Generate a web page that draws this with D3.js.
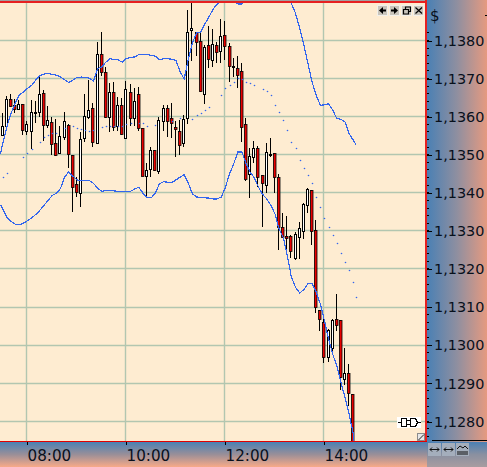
<!DOCTYPE html>
<html><head><meta charset="utf-8">
<script src="https://cdn.jsdelivr.net/npm/d3@7"></script>
<style>html,body{margin:0;padding:0;background:#fff;overflow:hidden}svg{display:block}</style>
</head><body><div id="c"></div>
<script>
const high=[1360.8,1365.4,1365.9,1364.5,1364.3,1363.2,1358.6,1364.3,1363.9,1370.6,1366.8,1362.7,1359.9,1359.2,1357.3,1361.2,1357.9,1349.8,1344.0,1355.8,1365.9,1369.6,1363.4,1379.4,1382.1,1372.9,1368.7,1368.9,1365.0,1364.8,1369.3,1368.4,1367.4,1367.6,1356.9,1347.6,1352.0,1351.1,1359.9,1363.0,1362.9,1363.4,1358.6,1359.0,1360.4,1388.0,1389.7,1382.1,1381.8,1378.8,1383.6,1382.9,1379.6,1385.6,1384.9,1379.2,1375.3,1375.9,1373.9,1359.5,1351.6,1353.4,1352.2,1344.5,1352.9,1354.3,1350.3,1344.8,1334.7,1333.8,1328.8,1329.6,1332.3,1337.1,1341.1,1340.6,1332.7,1309.2,1307.1,1304.2,1306.8,1313.4,1306.6,1299.0,1295.0,1287.1];
const low=[1354.8,1356.6,1362.4,1360.8,1361.7,1355.1,1355.1,1351.4,1358.3,1359.9,1353.6,1356.9,1349.8,1349.6,1350.3,1353.8,1346.5,1334.9,1338.7,1336.2,1353.3,1359.2,1351.8,1352.8,1370.6,1359.5,1355.8,1356.0,1356.1,1355.0,1354.1,1357.3,1357.3,1356.2,1344.3,1338.7,1343.9,1345.7,1344.8,1356.1,1354.6,1354.2,1349.4,1349.8,1351.8,1358.0,1374.4,1375.7,1366.4,1363.2,1372.6,1372.9,1373.9,1373.9,1374.8,1369.1,1370.4,1367.5,1353.1,1343.1,1338.6,1347.6,1341.3,1331.0,1339.9,1349.4,1339.9,1324.8,1328.2,1323.5,1322.8,1322.2,1322.4,1327.7,1334.6,1326.1,1308.3,1303.6,1295.2,1295.4,1297.6,1303.6,1288.2,1289.3,1283.9,1274.3];
const open=[1355.1,1357.5,1364.5,1362.9,1361.8,1363.1,1356.2,1356.1,1360.9,1361.0,1366.1,1357.8,1358.4,1352.9,1350.4,1354.5,1357.8,1349.7,1342.1,1339.7,1354.2,1359.9,1362.1,1352.9,1376.4,1371.6,1359.7,1366.3,1357.3,1362.9,1354.3,1366.3,1359.6,1365.8,1356.8,1344.4,1346.0,1351.0,1345.6,1358.6,1362.1,1359.5,1357.1,1356.1,1352.9,1359.5,1382.7,1382.0,1379.7,1365.7,1378.7,1374.8,1378.8,1377.0,1381.3,1378.4,1373.1,1372.6,1371.8,1357.9,1344.8,1349.4,1351.6,1344.5,1341.8,1349.9,1350.2,1344.0,1330.8,1328.5,1328.5,1322.8,1328.2,1329.9,1336.8,1340.5,1330.0,1309.1,1306.0,1296.8,1299.2,1306.8,1306.5,1291.0,1292.5,1287.0];
const close=[1357.5,1364.5,1362.7,1362.0,1363.2,1356.3,1357.9,1361.1,1361.1,1365.8,1357.8,1359.0,1352.8,1349.8,1354.7,1358.7,1350.0,1341.3,1340.2,1354.0,1360.1,1361.6,1353.1,1376.3,1371.6,1359.9,1366.3,1357.1,1362.9,1355.4,1367.1,1359.6,1363.9,1356.8,1344.4,1345.8,1351.1,1345.9,1359.0,1362.1,1358.6,1358.1,1356.5,1352.5,1359.2,1382.1,1383.2,1379.5,1366.5,1378.2,1375.0,1378.9,1376.8,1381.1,1378.4,1373.1,1373.3,1370.7,1357.1,1343.6,1349.6,1351.6,1343.9,1342.5,1350.5,1350.1,1344.1,1330.8,1328.3,1327.9,1324.7,1329.0,1330.5,1336.9,1340.8,1329.9,1309.9,1306.7,1296.8,1303.8,1306.4,1305.1,1291.5,1292.5,1287.4,1274.4];
const upperBand=[1350.3,1352.9,1357.3,1360.8,1363.4,1365.6,1366.5,1367.4,1368.2,1369.6,1370.8,1371.2,1371.3,1371.1,1370.9,1370.4,1369.7,1369.0,1369.6,1370.3,1370.4,1370.3,1370.1,1369.4,1372.6,1373.1,1374.3,1375.2,1375.0,1374.9,1374.3,1375.3,1375.5,1375.7,1376.3,1376.3,1376.3,1376.1,1375.9,1375.0,1375.2,1375.2,1375.1,1374.8,1371.8,1369.9,1375.2,1379.4,1382.0,1382.2,1384.3,1386.2,1388.2,1389.6,1390.3,1390.8,1390.7,1390.5,1389.6,1389.6,1391.0,1392.4,1393.2,1393.7,1393.7,1393.7,1393.2,1392.8,1392.2,1391.5,1390.8,1389.7,1387.1,1383.2,1378.8,1373.9,1369.1,1365.6,1363.0,1363.1,1363.4,1361.7,1359.5,1359.3,1358.6,1355.5,1353.8,1352.7];
const lowerBand=[1336.9,1335.8,1333.6,1332.5,1331.8,1331.6,1332.0,1332.7,1333.4,1334.3,1335.4,1336.7,1338.0,1339.3,1339.9,1341.1,1344.1,1345.5,1344.4,1343.4,1343.2,1343.2,1343.2,1342.5,1341.2,1340.4,1340.6,1340.6,1340.5,1340.4,1340.4,1340.3,1340.4,1341.0,1341.5,1339.9,1338.8,1338.7,1339.9,1342.4,1342.9,1342.8,1342.7,1343.4,1344.1,1344.8,1342.5,1339.7,1338.9,1338.8,1338.7,1338.6,1338.4,1338.4,1338.9,1341.5,1345.0,1347.6,1350.7,1350.7,1347.6,1345.4,1343.9,1341.5,1339.6,1338.4,1336.7,1334.5,1330.5,1328.3,1323.5,1317.8,1315.2,1313.7,1314.6,1316.1,1316.1,1313.9,1310.8,1306.4,1301.6,1297.6,1294.6,1290.2,1286.2,1281.8,1276.6,1267.8];
const midBand=[null,1344.1,1345.0,null,null,null,1349.4,1350.4,1351.4,null,1353.3,1354.4,1355.1,1355.5,1355.7,null,1356.8,null,1357.3,1356.8,1356.6,1356.4,1356.0,1356.4,null,1357.1,1357.5,1357.5,1357.5,1357.4,1357.5,1358.0,1358.3,null,1358.2,1358.1,1357.5,null,1357.6,null,null,null,1358.6,null,1359.5,null,null,1359.3,1360.2,1360.8,1361.7,1362.5,null,null,1365.6,1367.4,1368.1,1369.1,1370.0,1369.7,1369.1,1368.7,1368.3,null,1367.1,1366.7,1365.6,1363.0,1361.2,1359.0,1356.4,1353.3,1351.6,1348.5,1346.3,1344.6,1342.4,1338.9,1336.2,1333.2,1331.0,1328.8,1326.6,1324.0,1321.8,1319.6,1316.5,1312.5];
const bandSlots=[-0.55,...d3.range(86),85.65];
const priceTicks=[1280,1290,1300,1310,1320,1330,1340,1350,1360,1370,1380];
const minorTicks=d3.range(1276,1386,2);
const timeLabels=["08:00","10:00","12:00","14:00"];
const timeBars=[6,30,54,78];

const W=487,H=467,plotR=426,plotB=441,plotT=3;
const x=d3.scaleLinear().domain([0,1]).range([2.2,6.325]);
const y=d3.scaleLinear().domain([1380,1280]).range([40.5,421.3]);
const px=i=>Math.floor(x(i));
const py=v=>Math.floor(y(v));

const svg=d3.select("#c").append("svg").attr("width",W).attr("height",H);
const defs=svg.append("defs");
const grad=(id,x2,y2,stops)=>{const g=defs.append("linearGradient").attr("id",id).attr("x1",0).attr("y1",0).attr("x2",x2).attr("y2",y2);
  stops.forEach((c,i)=>g.append("stop").attr("offset",i/(stops.length-1)).attr("stop-color",c));};
grad("gr",1,0,["#4a80b4","#8f8fa0","#e69a80"]);
grad("gb",0,1,["#4a80b4","#9a8f98","#f8aa88"]);
grad("gc",0,1,["#4a80b4","#8a90a0","#a89ca0"]);
defs.append("clipPath").attr("id","plot").append("rect").attr("x",0).attr("y",plotT).attr("width",plotR).attr("height",plotB-plotT);

svg.append("rect").attr("width",W).attr("height",H).attr("fill","#feecd1");
svg.append("rect").attr("x",427).attr("y",0).attr("width",60).attr("height",442).attr("fill","url(#gr)");
svg.append("rect").attr("x",0).attr("y",442).attr("width",427).attr("height",25).attr("fill","url(#gb)");
svg.append("rect").attr("x",427).attr("y",442).attr("width",60).attr("height",25).attr("fill","url(#gc)");

const grid=svg.append("g").attr("stroke","#b2c6b0").attr("stroke-width",1.4);
grid.selectAll("line.h").data(priceTicks).join("line").attr("class","h")
 .attr("x1",0).attr("x2",plotR).attr("y1",d=>py(d)+.5).attr("y2",d=>py(d)+.5);
grid.selectAll("line.v").data(timeBars).join("line").attr("class","v")
 .attr("x1",d=>px(d)+.5).attr("x2",d=>px(d)+.5).attr("y1",plotT).attr("y2",plotB);

const plot=svg.append("g").attr("clip-path","url(#plot)");
const idx=d3.range(high.length);
const bars=plot.append("g");
bars.selectAll("rect.w").data(idx).join("rect").attr("class","w").attr("shape-rendering","crispEdges")
 .attr("x",px).attr("width",1).attr("fill","#000")
 .attr("y",i=>py(high[i])).attr("height",i=>Math.max(1,py(low[i])-py(high[i])));
const isDown=i=>close[i]<open[i];
bars.selectAll("rect.b").data(idx).join("rect").attr("class","b")
 .attr("x",i=>isDown(i)?px(i)-.6:px(i)-.5).attr("width",i=>isDown(i)?2.6:2)
 .attr("y",i=>py(Math.max(open[i],close[i]))+.5)
 .attr("height",i=>Math.max(1,py(Math.min(open[i],close[i]))-py(Math.max(open[i],close[i]))))
 .attr("fill",i=>isDown(i)?"#e80000":"#fff")
 .attr("stroke","#000").attr("stroke-width",i=>isDown(i)?.8:1);

const line=d3.line().defined(d=>d.v!==null).x(d=>x(d.s)+.5).y(d=>y(d.v));
const slots=a=>a.map((v,k)=>({v,s:bandSlots[k]}));
const bandG=plot.append("g").attr("fill","none").attr("stroke","#3366ee").attr("stroke-width",1.2).attr("shape-rendering","crispEdges");
bandG.append("path").attr("d",line(slots(upperBand)));
bandG.append("path").attr("d",line(slots(lowerBand)));
plot.append("g").attr("fill","#3366ee")
 .selectAll("circle").data(slots(midBand).filter(d=>d.v!==null)).join("circle")
 .attr("cx",d=>Math.floor(x(d.s))+1.5).attr("cy",d=>py(d.v)+.5).attr("r",.8);

const frame=svg.append("g").attr("shape-rendering","crispEdges");
frame.append("rect").attr("x",0).attr("y",0).attr("width",427).attr("height",1).attr("fill","#a0a0a0");
frame.append("rect").attr("x",0).attr("y",1).attr("width",427).attr("height",2).attr("fill","#e62020");
frame.append("rect").attr("x",425).attr("y",0).attr("width",2).attr("height",442).attr("fill","#e62020");
frame.append("rect").attr("x",0).attr("y",441).attr("width",427).attr("height",1).attr("fill","#e00000");

const ay=d3.axisRight(d3.scaleLinear().domain(y.domain()).range([py(1380)+.5,py(1280)+.5])).tickValues(priceTicks).tickSize(5).tickPadding(2).tickFormat(d=>"1,"+d);
const gy=svg.append("g").attr("transform","translate(427,0)").call(ay);
gy.select(".domain").remove();
gy.selectAll("line").attr("stroke","#000").attr("shape-rendering","crispEdges");
gy.selectAll("text").style("font",'14.4px "DejaVu Sans"').attr("fill","#08101c");
svg.append("g").attr("fill","#000").attr("shape-rendering","crispEdges").selectAll("rect").data(minorTicks.filter(v=>y(v)<438&&y(v)>26)).join("rect")
 .attr("x",427).attr("y",py).attr("width",2).attr("height",1);
svg.append("text").attr("x",430).attr("y",21).attr("fill","#08101c").style("font",'15px "DejaVu Sans"').text("$");
svg.append("rect").attr("x",432).attr("y",440).attr("width",55).attr("height",1).attr("fill","#000");
svg.append("rect").attr("x",485).attr("y",15).attr("width",2).attr("height",1).attr("fill","#000");

const xt=d3.scaleOrdinal().domain(timeBars).range(timeBars.map(px));
const ax=d3.axisBottom(xt).tickValues(timeBars).tickSize(3).tickFormat((d,i)=>timeLabels[i]);
const gx=svg.append("g").attr("transform","translate(0.5,442)").call(ax);
gx.select(".domain").remove();
gx.selectAll("line").attr("stroke","#000").attr("shape-rendering","crispEdges");
gx.selectAll("text").style("font",'15.2px "DejaVu Sans"').attr("fill","#08101c").attr("text-anchor","start").attr("x",0.5).attr("y",19).attr("dy",0);

const btn=svg.append("g");
const btnX=[377,389,401,413];
btn.selectAll("rect").data(btnX).join("rect").attr("x",d=>d+.5).attr("y",5.5).attr("width",10).attr("height",10).attr("fill","#c8c4bb").attr("stroke","#f2f0ea").attr("shape-rendering","crispEdges");
const icons=["M386 9.5V11.5H383V14L379 10.5L383 7V9.5Z","M391 9.5V11.5H394V14L398 10.5L394 7V9.5Z","M403.5 9.5h5v4.5h-5zM405.5 9V7h5v4.5h-2","M415.5 7.5L422 13.5M422 7.5L415.5 13.5"];
btn.selectAll("path").data(icons).join("path").attr("d",d=>d).attr("fill",(d,i)=>i<2?"#000":"none").attr("stroke",(d,i)=>i<2?"none":"#000").attr("stroke-width",1.2);

const cw=svg.append("g").attr("fill","none").attr("stroke","#000").attr("stroke-width",1).attr("shape-rendering","crispEdges");
cw.append("rect").attr("x",397).attr("y",417).attr("width",24).attr("height",11).attr("fill","#fff").attr("stroke","none");
cw.append("path").attr("d","M398 422.5h3M417.5 422.5h3M407 420.5h3M407 424.5h3");
cw.append("path").attr("d","M401.5 418.5h5v8h-5z");
cw.append("path").attr("d","M410.5 418.5h5l2 4l-2 4h-5z");

svg.append("rect").attr("x",417.5).attr("y",433.5).attr("width",7).attr("height",7).attr("fill","#e8e8e8").attr("stroke","#8c8c8c").attr("shape-rendering","crispEdges");
svg.append("path").attr("d","M418.5 440L424 434.5").attr("stroke","#222").attr("fill","none");

const ib=svg.append("g");
ib.selectAll("rect").data([428,442,456]).join("rect").attr("x",d=>d).attr("y",443).attr("width",13).attr("height",13).attr("fill","#a4aebc");
ib.append("path").attr("d","M430 449.5h9M432 447.5l-2 2l2 2M437 447.5l2 2l-2 2M444 449.5h9M446 447.5l-2 2l2 2M451 447.5l2 2l-2 2M457 449l3-3l3 2l2-2l3 3M457 452h11M457 454h11").attr("fill","none").attr("stroke","#111").attr("stroke-width",1);
</script></body></html>
